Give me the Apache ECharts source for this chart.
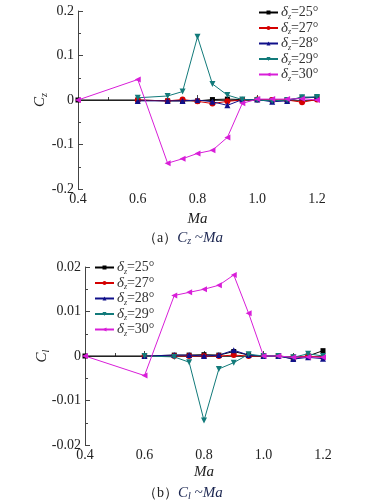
<!DOCTYPE html>
<html>
<head>
<meta charset="utf-8">
<script src="https://cdn.jsdelivr.net/npm/echarts@6/dist/echarts.min.js"></script>
<style>
html, body { margin: 0; padding: 0; background: #fff; }
#chart { width: 382px; height: 503px; }
</style>
</head>
<body>
<div id="chart"></div>
<script>
// Ma 取值
const machs = [0.4, 0.6, 0.7, 0.75, 0.8, 0.85, 0.9, 0.95, 1.0, 1.05, 1.1, 1.15, 1.2]
const angles = ['25', '27', '28', '29', '30']
const xTicks = [0.4, 0.6, 0.8, 1.0, 1.2]
const czTicks = [-0.2, -0.1, 0, 0.1, 0.2]
const clTicks = [-0.02, -0.01, 0, 0.01, 0.02]

// (a) Cz，0.4 处无点的为 null
const cz25 = [0, 0, -0.002, -0.002, -0.002, 0.001, 0.002, 0.001, 0.001, 0, 0, 0.005, 0.006]
const cz27 = [null, 0, -0.002, 0.001, -0.003, -0.008, -0.003, 0, 0.001, 0, 0, -0.005, 0.001]
const cz28 = [null, -0.002, -0.002, -0.002, 0, -0.004, -0.012, 0.001, 0.001, -0.004, -0.002, 0.006, 0.006]
const cz29 = [null, 0.005, 0.009, 0.019, 0.142, 0.036, 0.011, 0.001, 0, -0.002, 0, 0.006, 0.007]
const cz30 = [0, 0.046, -0.142, -0.132, -0.12, -0.113, -0.084, -0.0075, 0.002, 0.002, 0.002, 0.003, 0]

// (b) Cl
const cl25 = [0, 0, 0.0002, 0.0002, 0.0003, 0.0002, 0.001, 0.0002, 0, 0, -0.0006, 0, 0.0012]
const cl27 = [null, 0, 0, 0, 0, 0, 0.0002, 0, 0, 0, -0.0003, 0, -0.0003]
const cl28 = [null, 0, 0.0002, 0.0002, 0, 0.0002, 0.0013, 0.0002, 0, 0, -0.0007, -0.0003, -0.0006]
const cl29 = [null, 0, -0.0002, -0.0014, -0.0145, -0.0029, -0.0015, 0.0004, 0, 0, -0.0003, 0.0005, 0]
const cl30 = [0, -0.0044, 0.0136, 0.0143, 0.015, 0.0159, 0.0182, 0.0096, 0, 0, -0.0003, -0.0002, -0.0003]

const colors = ['#000000', '#d40000', '#10108a', '#127a7a', '#d81ed8']
const symbols = ['rect', 'circle', 'triangle', 'triangle', 'triangle']
const rotates = [0, 0, 0, 180, 90]
const serif = 'Liberation Serif, Times New Roman, serif'

const chartInstance = echarts.init(document.getElementById('chart'))

function pairs(ys) {
	const out = []
	ys.forEach(function(v, i) {
		if (v !== null) out.push([machs[i], v])
	})
	return out
}

function makeSeries(list, idx) {
	return list.map(function(ys, i) {
		return {
			type: 'line',
			name: angles[i] + (idx ? 'b' : 'a'),
			xAxisIndex: idx,
			yAxisIndex: idx,
			data: pairs(ys),
			color: colors[i],
			symbol: symbols[i],
			symbolRotate: rotates[i],
			symbolSize: i === 0 ? 5 : 6,
			showAllSymbol: true,
			lineStyle: { width: 1 },
			emphasis: { disabled: true },
			z: 2 + i,
		}
	})
}

function xAxis(idx, gap) {
	return {
		gridIndex: idx,
		type: 'value',
		min: 0.4,
		max: 1.2,
		interval: 0.2,
		name: 'Ma',
		nameLocation: 'middle',
		nameGap: gap,
		nameMoveOverlap: false,
		nameTextStyle: { fontFamily: serif, fontStyle: 'italic', fontSize: 15, color: '#222' },
		axisLine: { lineStyle: { color: '#444', width: 1 } },
		axisTick: { inside: true, length: 5, lineStyle: { color: '#444' } },
		minorTick: { show: true, splitNumber: 2, length: 3, lineStyle: { color: '#444' } },
		splitLine: { show: false },
		axisLabel: {
			fontFamily: serif, fontSize: 14, color: '#222', margin: 3,
			formatter: function(v) { return v.toFixed(1) },
		},
	}
}

function yAxis(idx, lim, step, sub, gap) {
	return {
		gridIndex: idx,
		type: 'value',
		min: -lim,
		max: lim,
		interval: step,
		name: '{c|C}{s|' + sub + '}',
		nameLocation: 'middle',
		nameRotate: 90,
		nameGap: gap,
		nameMoveOverlap: false,
		nameTextStyle: {
			rich: {
				c: { fontFamily: serif, fontStyle: 'italic', fontSize: 15, color: '#222' },
				s: { fontFamily: serif, fontStyle: 'italic', fontSize: 10, color: '#222', verticalAlign: 'bottom', padding: [8, 0, 0, 0] },
			},
		},
		axisLine: { show: true, lineStyle: { color: '#444', width: 1 } },
		axisTick: { show: true, inside: true, length: 5, lineStyle: { color: '#444' } },
		minorTick: { show: true, splitNumber: 2, length: 3, lineStyle: { color: '#444' } },
		splitLine: { show: false },
		axisLabel: { fontFamily: serif, fontSize: 14, color: '#222', margin: 4 },
	}
}

function legend(idx, left, top) {
	return {
		orient: 'vertical',
		left: left,
		top: top,
		padding: 0,
		itemWidth: 19,
		itemHeight: 5,
		itemGap: 0,
		data: angles.map(function(a) { return a + (idx ? 'b' : 'a') }),
		formatter: function(name) {
			return '{d|δ}{s|z}{t|=' + name.slice(0, 2) + '°}'
		},
		textStyle: {
			padding: [0, 0, 0, -2],
			rich: {
				d: { fontFamily: serif, fontStyle: 'italic', fontSize: 15, color: '#333', lineHeight: 16 },
				s: { fontFamily: serif, fontStyle: 'italic', fontSize: 8, color: '#333', lineHeight: 7, width: 3, verticalAlign: 'bottom' },
				t: { fontFamily: serif, fontSize: 14, color: '#333', lineHeight: 16 },
			},
		},
	}
}

function caption(letter, sub, top) {
	return {
		text: '{p|（' + letter + '）}{c|C}{s|' + sub + '}{m| ~Ma}',
		left: 143,
		top: top,
		padding: 0,
		textStyle: {
			rich: {
				p: { fontFamily: serif, fontSize: 14, fontWeight: 'normal', color: '#222' },
				c: { fontFamily: serif, fontStyle: 'italic', fontWeight: 'normal', fontSize: 15, color: '#1a2550' },
				s: { fontFamily: serif, fontStyle: 'italic', fontWeight: 'normal', fontSize: 10, color: '#1a2550', verticalAlign: 'bottom', padding: [6, 0, 0, 0] },
				m: { fontFamily: serif, fontStyle: 'italic', fontWeight: 'normal', fontSize: 15, color: '#1a2550' },
			},
		},
	}
}

const option = {
	animation: false,
	title: [caption('a', 'z', 230), caption('b', 'l', 485)],
	legend: [legend(0, 258, 5), legend(1, 94, 260)],
	grid: [
		{ left: 78, right: 65, top: 11, height: 178 },
		{ left: 85, right: 59, top: 267, height: 178 },
	],
	xAxis: [xAxis(0, 23), xAxis(1, 20)],
	yAxis: [yAxis(0, 0.2, 0.1, 'z', 29), yAxis(1, 0.02, 0.01, 'l', 34)],
	series: makeSeries([cz25, cz27, cz28, cz29, cz30], 0).concat(makeSeries([cl25, cl27, cl28, cl29, cl30], 1)),
}
chartInstance.setOption(option)
</script>
</body>
</html>
